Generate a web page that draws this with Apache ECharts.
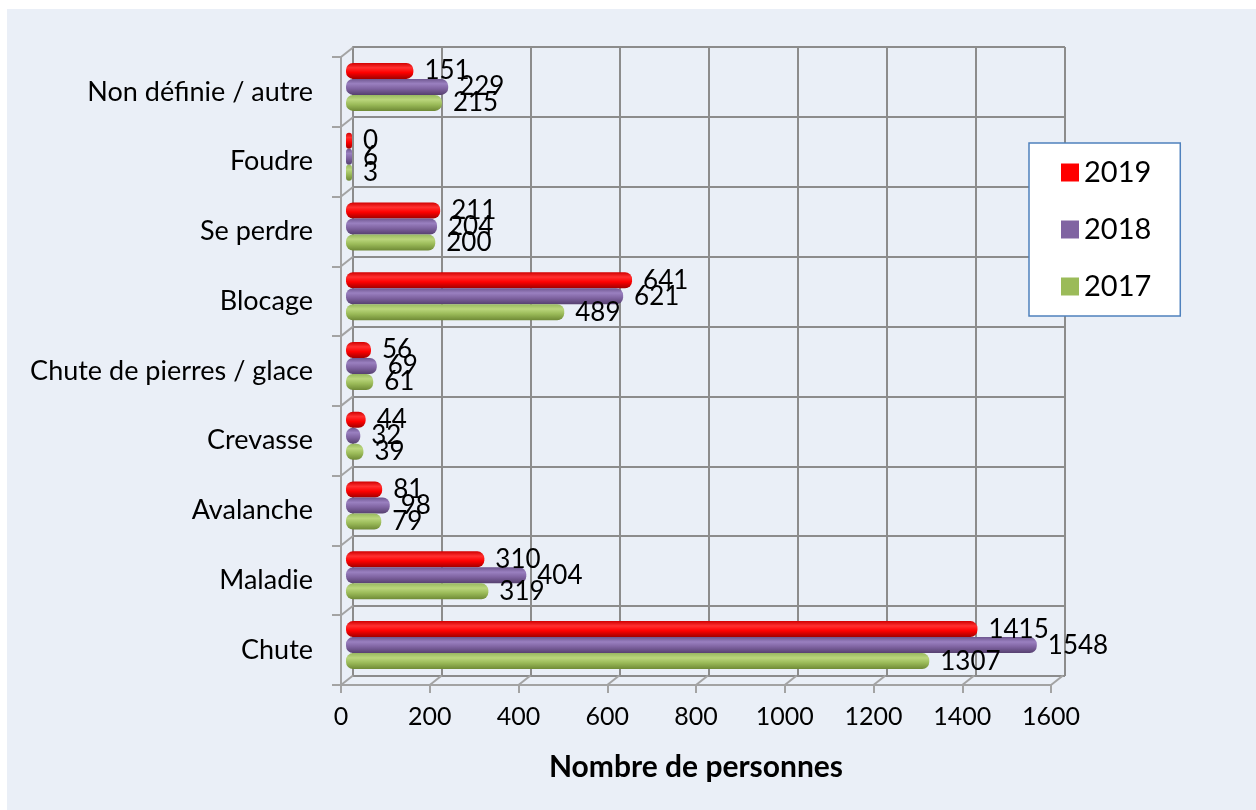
<!DOCTYPE html>
<html>
<head>
<meta charset="utf-8">
<script src="https://cdn.jsdelivr.net/npm/echarts@6/dist/echarts.min.js"></script>
<style>
  html, body { margin: 0; padding: 0; background: #ffffff; }
  #chart { position: absolute; left: 7px; top: 9px; width: 1249px; height: 801px; }
</style>
</head>
<body>
<div id="chart"></div>
<script>
// Categories, top to bottom as shown
const categories = ['Non définie / autre', 'Foudre', 'Se perdre', 'Blocage', 'Chute de pierres / glace', 'Crevasse', 'Avalanche', 'Maladie', 'Chute'];
const years = ['2019', '2018', '2017'];
const values2019 = [151, 0, 211, 641, 56, 44, 81, 310, 1415];
const values2018 = [229, 6, 204, 621, 69, 32, 98, 404, 1548];
const values2017 = [215, 3, 200, 489, 61, 39, 79, 319, 1307];
const xTicks = [0, 200, 400, 600, 800, 1000, 1200, 1400, 1600];

const FONT = 'Lato';
const GRID_COLOR = '#8c8c8c';
const FRONT_COLOR = '#a3a3a3';
const DX = 12, DY = -9.5;

function grad(c0, c1, c2, c3) {
  return new echarts.graphic.LinearGradient(0, 0, 0, 1, [
    { offset: 0, color: c0 },
    { offset: 0.3, color: c1 },
    { offset: 0.6, color: c2 },
    { offset: 1, color: c3 }
  ]);
}

const seriesStyles = {
  '2019': { color: grad('#d00000', '#ff3030', '#ff0000', '#a00000'), legend: '#ff0000' },
  '2018': { color: grad('#6f5790', '#9a80c0', '#8064a2', '#56406f'), legend: '#8064a2' },
  '2017': { color: grad('#98b860', '#bad67c', '#9bbb59', '#6f8a36'), legend: '#9bbb59' }
};
const seriesData = { '2019': values2019, '2018': values2018, '2017': values2017 };

const chart = echarts.init(document.getElementById('chart'), null, { renderer: 'canvas' });

const barSeries = years.map(y => ({
  name: y,
  type: 'bar',
  xAxisIndex: 2,
  yAxisIndex: 2,
  data: seriesData[y],
  barWidth: 16,
  barGap: '0%',
  barMinHeight: 6,
  z: 5,
  itemStyle: { color: seriesStyles[y].color, borderRadius: 7 },
  label: {
    show: true,
    position: 'right',
    distance: 11,
    color: '#000',
    fontFamily: FONT,
    fontSize: 26
  },
  emphasis: { disabled: true }
}));

const option = {
  backgroundColor: '#eaeff7',
  animation: false,
  textStyle: { fontFamily: FONT },
  color: years.map(y => seriesStyles[y].legend),
  legend: {
    data: years.map(y => ({ name: y, itemStyle: { color: seriesStyles[y].legend } })),
    orient: 'vertical',
    left: 1022,
    top: 134,
    icon: 'rect',
    itemWidth: 18,
    itemHeight: 18,
    itemGap: 28,
    padding: [15, 29, 15, 32],
    backgroundColor: '#ffffff',
    borderColor: '#4f81bd',
    borderWidth: 1.5,
    textStyle: { fontFamily: FONT, fontSize: 29, color: '#000', lineHeight: 29 },
    selectedMode: false
  },
  grid: [
    { left: 346, top: 38, width: 712, height: 629 },   // back wall
    { left: 334, top: 48, width: 710, height: 628 },   // front axes
    { left: 339, top: 43, width: 714, height: 628 }    // bars
  ],
  xAxis: [
    {
      gridIndex: 0, type: 'value', min: 0, max: 1600, interval: 200,
      axisLabel: { show: false }, axisTick: { show: false }, axisLine: { show: false },
      splitLine: { show: true, lineStyle: { color: GRID_COLOR, width: 2 } }
    },
    {
      gridIndex: 1, type: 'value', min: 0, max: 1600, interval: 200,
      axisLine: { show: true, lineStyle: { color: FRONT_COLOR, width: 2 } },
      axisTick: { show: true, length: 8, lineStyle: { color: FRONT_COLOR, width: 2 } },
      axisLabel: { color: '#000', fontFamily: FONT, fontSize: 25, margin: 19, formatter: v => String(v) },
      splitLine: { show: false },
      name: 'Nombre de personnes',
      nameLocation: 'middle',
      nameGap: 67,
      nameTextStyle: { color: '#000', fontFamily: FONT, fontSize: 30, fontWeight: 'bold' }
    },
    {
      gridIndex: 2, type: 'value', min: 0, max: 1600, show: false
    }
  ],
  yAxis: [
    {
      gridIndex: 0, type: 'category', data: categories, inverse: true,
      axisLabel: { show: false }, axisTick: { show: false },
      axisLine: { show: true, lineStyle: { color: GRID_COLOR, width: 2 } },
      splitLine: { show: true, lineStyle: { color: GRID_COLOR, width: 2 } }
    },
    {
      gridIndex: 1, type: 'category', data: categories, inverse: true,
      axisLine: { show: true, lineStyle: { color: FRONT_COLOR, width: 2 } },
      axisTick: { show: true, length: 9, lineStyle: { color: FRONT_COLOR, width: 2 } },
      axisLabel: { color: '#000', fontFamily: FONT, fontSize: 27, margin: 28 },
      splitLine: { show: false }
    },
    {
      gridIndex: 2, type: 'category', data: categories, inverse: true, show: false
    }
  ],
  series: [
    {
      type: 'custom',
      xAxisIndex: 1, yAxisIndex: 1,
      silent: true,
      z: 1,
      data: xTicks.map(v => [v, 0]),
      renderItem: function (params, api) {
        const cs = params.coordSys;
        const x = api.coord([api.value(0), 0])[0];
        const yb = cs.y + cs.height;
        return {
          type: 'line',
          shape: { x1: x, y1: yb, x2: x + DX, y2: yb + DY },
          style: { stroke: FRONT_COLOR, lineWidth: 2 }
        };
      }
    },
    {
      type: 'custom',
      xAxisIndex: 1, yAxisIndex: 1,
      silent: true,
      z: 1,
      data: categories.map((c, i) => [0, i]),
      renderItem: function (params, api) {
        const cs = params.coordSys;
        const c = api.coord([0, api.value(1)]);
        const h = api.size([0, 1])[1];
        const yt = c[1] - h / 2;
        return {
          type: 'line',
          shape: { x1: cs.x, y1: yt, x2: cs.x + DX, y2: yt + DY },
          style: { stroke: FRONT_COLOR, lineWidth: 2 }
        };
      }
    }
  ].concat(barSeries)
};

chart.setOption(option);
</script>
</body>
</html>
